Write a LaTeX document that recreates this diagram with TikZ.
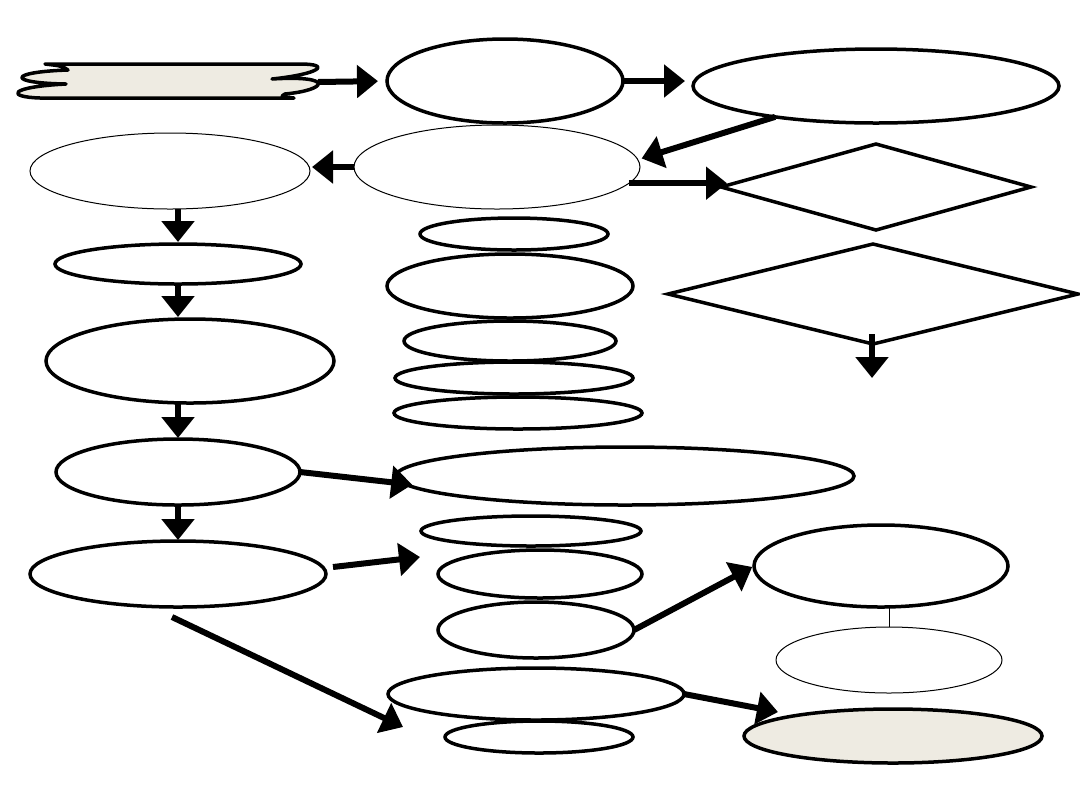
\documentclass[tikz,border=0pt]{standalone}
\usetikzlibrary{shapes.geometric,arrows.meta,calc}
\definecolor{beige}{RGB}{238,235,226}
\begin{document}
\begin{tikzpicture}[x=0.5pt,y=-0.5pt,
  oval/.style={ellipse,draw,line width=1.75pt,inner sep=0pt,outer sep=0pt},
  thinoval/.style={ellipse,draw,line width=0.5pt,inner sep=0pt,outer sep=0pt},
  dia/.style={diamond,draw,line width=1.75pt,inner sep=0pt,outer sep=0pt},
  arr/.style={line width=3pt,-{Triangle[length=10.5pt,width=16pt]}},
  thinline/.style={line width=0.5pt}]
\useasboundingbox (0,0) rectangle (1080,810);
\fill[white] (0,0) rectangle (1080,810);
% banner
\filldraw[fill=beige,line width=1.75pt,line join=round]
  (45,64) -- (300,64)
  .. controls (332,64) and (320,74) .. (272,79)
  .. controls (335,75) and (328,90) .. (285,94)
  .. controls (280,97) .. (294,98)
  -- (40,98)
  .. controls (6,97) and (8,87) .. (66,84)
  .. controls (6,83) and (8,72) .. (68,70)
  .. controls (62,66) .. (45,64) -- cycle;
\node[inner sep=0pt,outer sep=0pt,minimum width=148pt,minimum height=17pt] (banner) at (170,82) {};
% top row
\node[oval,minimum width=118pt,minimum height=42pt] (E1) at (505,81) {};
\node[oval,minimum width=183pt,minimum height=37pt] (E2) at (876,86) {};
\node[thinoval,minimum width=143pt,minimum height=42pt] (E3) at (497,167) {};
\node[thinoval,minimum width=140pt,minimum height=38pt] (E4) at (170,171) {};
\node[dia,minimum width=155pt,minimum height=43pt] (D1) at (876,187) {};
\node[dia,minimum width=205pt,minimum height=50pt] (D2) at (873,294) {};
% centre column
\node[oval,minimum width=94pt,minimum height=16pt] (S1) at (514,234) {};
\node[oval,minimum width=123pt,minimum height=32pt] (S2) at (510,286) {};
\node[oval,minimum width=106pt,minimum height=20pt] (S3) at (510,341) {};
\node[oval,minimum width=119pt,minimum height=16pt] (S4) at (514,378) {};
\node[oval,minimum width=124pt,minimum height=16pt] (S5) at (518,413) {};
% left column
\node[oval,minimum width=123pt,minimum height=20pt] (L1) at (178,264) {};
\node[oval,minimum width=144pt,minimum height=42pt] (L2) at (190,361) {};
\node[oval,minimum width=122pt,minimum height=33pt] (L3) at (178,472) {};
\node[oval,minimum width=229pt,minimum height=29pt] (B) at (625,476) {};
\node[oval,minimum width=148pt,minimum height=33pt] (L4) at (178,574) {};
% lower centre
\node[oval,minimum width=110pt,minimum height=15pt] (M1) at (531,531) {};
\node[oval,minimum width=102pt,minimum height=24pt] (M2) at (540,574) {};
\node[oval,minimum width=98pt,minimum height=28pt] (M3) at (536,630) {};
\node[oval,minimum width=148pt,minimum height=26pt] (M4) at (536,694) {};
\node[oval,minimum width=94pt,minimum height=16pt] (M5) at (539,737) {};
% right lower
\node[oval,minimum width=127pt,minimum height=41pt] (R1) at (881,566) {};
\node[thinoval,minimum width=113pt,minimum height=33pt] (R2) at (889,660) {};
\node[oval,fill=beige,minimum width=149pt,minimum height=27pt] (R3) at (893,736) {};
% free ends
\coordinate (D2end) at (872,378);
\coordinate (L4to) at (420,557);
\coordinate (M4to) at (403,727);
\coordinate (R3to) at (778,712);
% connectors
\draw[arr,shorten >=4.5pt] (banner.east) -- (E1.west);
\draw[arr,shorten >=4pt] (E1.east) -- (E1.east -| E2.west);
\draw[arr,shorten >=2pt] (E2.197) -- (E3.3);
\draw[arr,shorten >=1pt] (E3.west) -- (E3.west -| E4.east);
\draw[arr,shorten >=-3pt] (E3.-7) -- (E3.-7 -| D1.west);
\draw[arr] ($(D2.south)+(-1,-10)$) -- (D2end);
\draw[arr,shorten >=1pt] (E4.south -| L1.north) -- (L1.north);
\draw[arr,shorten >=1pt] (L1.south) -- (L1.south |- L2.north);
\draw[arr,shorten >=0.5pt] (L2.south -| L3.north) -- (L3.north);
\draw[arr,shorten >=0.5pt] (L3.south) -- (L4.north);
\draw[arr,shorten >=-4pt] (L3.east) -- (B.182);
\draw[arr] ($(L4.east)+(7,-7)$) -- (L4to);
\draw[arr,shorten >=1pt] (M3.east) -- (R1.west);
\draw[thinline] (R2.north |- R1.south) -- (R2.north);
\draw[arr] ($(L4.south)+(-6,10)$) -- (M4to);
\draw[arr] (M4.east) -- (R3to);
\end{tikzpicture}
\end{document}
